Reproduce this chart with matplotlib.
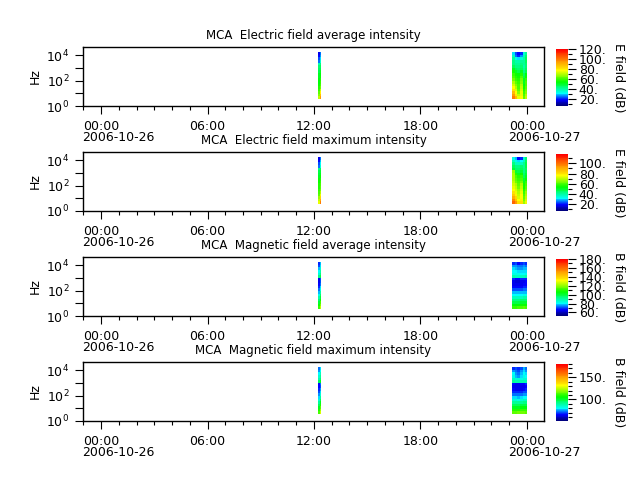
import datetime as dt
import numpy as np
import matplotlib
matplotlib.use('Agg')
from matplotlib import pyplot as plt
from matplotlib import dates as mdates
from matplotlib.colors import LinearSegmentedColormap
from matplotlib.ticker import MultipleLocator, FormatStrFormatter

day0 = dt.datetime(2006, 10, 26)

# orbit segments, hours after 2006-10-26 00:00
hours_a = [12.24, 12.33, 12.41]
hours_b = [23.18, 23.32, 23.46, 23.61, 23.75, 23.89, 24.03]

# channel edges in Hz, highest first
freq_edges = [17000, 10600, 6600, 4100, 2600, 1600, 1000, 620, 390, 240,
              150, 94, 58, 36, 23, 14, 8.9, 5.6, 3.5]

titles = ['MCA  Electric field average intensity',
          'MCA  Electric field maximum intensity',
          'MCA  Magnetic field average intensity',
          'MCA  Magnetic field maximum intensity']
cb_labels = ['E field (dB)', 'E field (dB)', 'B field (dB)', 'B field (dB)']
vmins = [5, 7, 52, 51]
vmaxs = [120, 118, 180, 180]
cb_major = [20, 20, 20, 50]

e_avg_a = [[16, 24], [18, 26], [22, 30], [24, 34], [38, 42], [44, 46],
           [46, 48], [48, 50], [50, 52], [50, 54], [52, 56], [52, 58],
           [54, 60], [56, 64], [58, 70], [62, 78], [66, 86], [70, 94]]
e_avg_b = [[30, 22, 18, 20, 34, 40], [36, 24, 20, 26, 36, 44],
           [40, 32, 30, 34, 38, 46], [42, 38, 38, 40, 40, 46],
           [42, 40, 40, 42, 40, 44], [46, 42, 42, 44, 38, 44],
           [50, 46, 44, 46, 40, 46], [54, 50, 48, 50, 42, 48],
           [58, 54, 52, 56, 46, 52], [60, 56, 54, 60, 48, 54],
           [64, 58, 56, 64, 50, 58], [68, 62, 58, 66, 50, 60],
           [72, 66, 60, 68, 52, 60], [76, 68, 60, 70, 54, 62],
           [82, 72, 62, 72, 56, 64], [88, 76, 66, 74, 58, 66],
           [94, 80, 70, 74, 60, 68], [100, 88, 74, 76, 62, 70]]

e_max_a = [[18, 26], [20, 28], [24, 32], [26, 36], [42, 46], [48, 50],
           [50, 52], [52, 54], [54, 56], [54, 58], [56, 60], [56, 62],
           [58, 64], [60, 68], [62, 74], [66, 82], [70, 90], [74, 98]]
e_max_b = [[34, 28, 20, 22, 36, 44], [38, 34, 30, 32, 38, 46],
           [42, 38, 38, 38, 40, 48], [46, 42, 42, 44, 40, 48],
           [50, 44, 44, 46, 42, 46], [66, 50, 48, 50, 42, 48],
           [68, 56, 52, 54, 44, 50], [68, 60, 56, 58, 46, 52],
           [68, 62, 58, 60, 50, 54], [70, 64, 60, 64, 52, 58],
           [72, 68, 62, 68, 54, 60], [74, 70, 64, 70, 54, 62],
           [76, 72, 66, 72, 56, 64], [80, 74, 68, 74, 58, 66],
           [84, 78, 70, 76, 60, 68], [90, 82, 72, 76, 62, 70],
           [96, 86, 76, 78, 64, 72], [102, 92, 80, 80, 66, 74]]

b_avg_a = [[68, 76], [70, 78], [76, 84], [80, 88], [84, 92], [92, 98],
           [64, 70], [64, 70], [66, 72], [68, 78], [72, 82], [76, 88],
           [82, 94], [88, 100], [94, 106], [100, 112], [106, 118], [110, 124]]
b_avg_b = [[68, 70, 66, 68, 70, 68], [74, 74, 72, 72, 74, 72],
           [78, 76, 74, 74, 76, 76], [80, 80, 78, 78, 78, 78],
           [82, 82, 82, 80, 80, 82], [88, 86, 86, 86, 86, 88],
           [68, 66, 66, 68, 68, 68], [64, 62, 62, 64, 64, 66],
           [64, 64, 64, 64, 66, 66], [66, 66, 66, 66, 68, 68],
           [70, 70, 70, 70, 72, 72], [76, 76, 76, 76, 76, 76],
           [80, 80, 80, 80, 82, 82], [86, 86, 86, 86, 88, 88],
           [92, 92, 92, 94, 94, 94], [98, 98, 98, 100, 100, 100],
           [104, 104, 104, 106, 106, 106], [110, 110, 112, 112, 114, 112]]

b_max_a = [[72, 78], [74, 80], [80, 86], [84, 90], [88, 94], [96, 102],
           [66, 72], [66, 70], [68, 74], [70, 78], [74, 84], [78, 90],
           [84, 96], [90, 102], [96, 108], [102, 114], [108, 120], [112, 126]]
b_max_b = [[68, 70, 68, 70, 76, 72], [74, 72, 70, 74, 78, 74],
           [80, 74, 72, 76, 80, 78], [82, 76, 74, 78, 82, 80],
           [86, 84, 84, 82, 84, 84], [90, 88, 88, 88, 88, 88],
           [66, 64, 64, 66, 66, 68], [64, 64, 64, 64, 64, 66],
           [66, 64, 64, 64, 66, 68], [68, 68, 68, 68, 70, 70],
           [72, 72, 72, 72, 74, 74], [78, 78, 76, 78, 80, 80],
           [84, 84, 82, 84, 86, 86], [90, 90, 90, 90, 92, 92],
           [96, 96, 96, 98, 98, 98], [102, 102, 102, 104, 104, 104],
           [108, 108, 108, 110, 110, 110], [114, 114, 116, 116, 116, 114]]

strips_a = [e_avg_a, e_max_a, b_avg_a, b_max_a]
strips_b = [e_avg_b, e_max_b, b_avg_b, b_max_b]

rainbow = LinearSegmentedColormap.from_list('mca', [
    (0.0, (0, 0, 0.5)), (0.11, (0, 0, 1)), (0.22, (0, 1, 1)),
    (0.42, (0, 1, 0)), (0.62, (1, 1, 0)), (0.82, (1, 0.5, 0)),
    (1.0, (1, 0, 0))], N=64)


def to_num(hours):
    return mdates.date2num([day0 + dt.timedelta(hours=h) for h in hours])


plt.rcParams['font.size'] = 9
plt.rcParams['axes.linewidth'] = 1.0

W, H = 640.0, 480.0
tops = [47, 152, 257, 362]
fig = plt.figure(figsize=(6.4, 4.8), dpi=100)

for i in range(4):
    ax = fig.add_axes([83 / W, 1 - (tops[i] + 59) / H, 461 / W, 59 / H])
    for hours, vals in ((hours_a, strips_a[i]), (hours_b, strips_b[i])):
        mesh = ax.pcolormesh(to_num(hours), freq_edges, np.array(vals), cmap=rainbow,
                             vmin=vmins[i], vmax=vmaxs[i], shading='flat')
    ax.set_yscale('log')
    ax.set_ylim(1, 4.3e4)
    ax.set_yticks([1, 10, 100, 1000, 10000])
    ax.set_yticklabels(['$\\mathdefault{10^{0}}$', '', '$\\mathdefault{10^{2}}$', '',
                        '$\\mathdefault{10^{4}}$'])
    ax.yaxis.set_minor_locator(plt.NullLocator())
    for n, tk in enumerate(ax.yaxis.get_major_ticks()):
        tk.tick1line.set_markersize(5.8 if n % 2 == 0 else 2.9)
    ax.set_ylabel('Hz')
    ax.yaxis.set_label_coords(-0.09, 0.5)

    ax.set_xlim(mdates.date2num(day0 - dt.timedelta(hours=1.015)),
                mdates.date2num(day0 + dt.timedelta(hours=24.96)))
    ax.xaxis.set_major_locator(mdates.HourLocator(byhour=[0, 6, 12, 18]))
    ax.xaxis.set_minor_locator(mdates.HourLocator())
    ax.xaxis.set_major_formatter(mdates.DateFormatter('%H:%M'))
    ax.tick_params(which='major', length=5.8, width=0.8, pad=4)
    ax.tick_params(which='minor', length=2.9, width=0.8)
    ax.set_title(titles[i], fontsize=8.5, pad=6)

    for day, label in ((0, '2006-10-26'), (24, '2006-10-27')):
        ax.annotate(label, xy=(to_num([day])[0], 0), xycoords=ax.get_xaxis_transform(),
                    xytext=(-13.5, -22.6), textcoords='offset points', ha='left', va='center')

    cax = fig.add_axes([556 / W, 1 - (tops[i] + 59) / H, 12 / W, 57 / H])
    cb = fig.colorbar(mesh, cax=cax)
    cb.outline.set_visible(False)
    cb.set_ticks(MultipleLocator(cb_major[i]))
    cb.ax.yaxis.set_major_formatter(FormatStrFormatter('%d.'))
    cb.ax.yaxis.set_minor_locator(MultipleLocator(10))
    cb.ax.tick_params(which='major', length=5.8, width=0.8, pad=2)
    cb.ax.tick_params(which='minor', length=2.9, width=0.8)
    cb.set_label(cb_labels[i], rotation=270, va='center')
    cb.ax.yaxis.set_label_coords(5.25, 0.5)

fig.savefig('out.png', dpi=100)
